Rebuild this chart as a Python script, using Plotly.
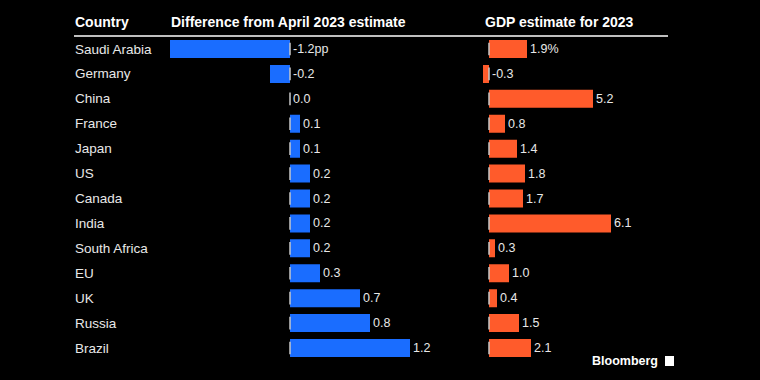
import plotly.graph_objects as go

countries = ["Saudi Arabia", "Germany", "China", "France", "Japan", "US", "Canada",
             "India", "South Africa", "EU", "UK", "Russia", "Brazil"]
diff_vals = [-1.2, -0.2, 0.0, 0.1, 0.1, 0.2, 0.2, 0.2, 0.2, 0.3, 0.7, 0.8, 1.2]
gdp_vals = [1.9, -0.3, 5.2, 0.8, 1.4, 1.8, 1.7, 6.1, 0.3, 1.0, 0.4, 1.5, 2.1]
diff_labels = ["-1.2pp"] + [f"{v:.1f}" for v in diff_vals[1:]]
gdp_labels = ["1.9%"] + [f"{v:.1f}" for v in gdp_vals[1:]]

W, H = 760, 380
BLUE = "#1a6dff"
ORANGE = "#ff5b2b"
FONT = "Liberation Sans"

fig = go.Figure()
fig.add_trace(go.Bar(x=diff_vals, y=countries, orientation="h", marker_color=BLUE,
                     marker_line_width=0, width=0.72, xaxis="x", yaxis="y", hoverinfo="skip"))
fig.add_trace(go.Bar(x=gdp_vals, y=countries, orientation="h", marker_color=ORANGE,
                     marker_line_width=0, width=0.72, xaxis="x2", yaxis="y", hoverinfo="skip"))
# zero ticks per row
for xa in ["x", "x2"]:
    fig.add_trace(go.Scatter(x=[0] * len(countries), y=countries, mode="markers",
                             marker=dict(symbol="line-ns", size=9,
                                         line=dict(color="#c8c8c8", width=1.5)),
                             xaxis=xa, yaxis="y", hoverinfo="skip"))

VAL_FONT = dict(color="#e8e8e8", size=12.5, family=FONT)
ann = []
for c, v, t in zip(countries, diff_vals, diff_labels):
    ann.append(dict(x=max(v, 0), y=c, xref="x", yref="y", text=t, showarrow=False,
                    xanchor="left", xshift=1, font=VAL_FONT))
for c, v, t in zip(countries, gdp_vals, gdp_labels):
    ann.append(dict(x=max(v, 0), y=c, xref="x2", yref="y", text=t, showarrow=False,
                    xanchor="left", xshift=1, font=VAL_FONT))
for c in countries:
    ann.append(dict(x=74 / W, y=c, xref="paper", yref="y", text=c, showarrow=False,
                    xanchor="left", xshift=-1, font=dict(color="#e8e8e8", size=13.5, family=FONT)))

hdr_y = 1 - 22 / H
for x, t in [(74, "Country"), (170, "Difference from April 2023 estimate"), (484, "GDP estimate for 2023")]:
    ann.append(dict(x=x / W, y=hdr_y, xref="paper", yref="paper", text=f"<b>{t}</b>",
                    showarrow=False, xanchor="left", yanchor="middle", xshift=-1,
                    font=dict(color="white", size=14, family=FONT)))
ann.append(dict(x=660 / W, y=1 - 361 / H, xref="paper", yref="paper", text="<b>Bloomberg</b>",
                showarrow=False, xanchor="right", yanchor="middle",
                font=dict(color="white", size=12.5, family=FONT)))

shapes = [
    dict(type="line", xref="paper", yref="paper", x0=74 / W, x1=668 / W,
         y0=1 - 36 / H, y1=1 - 36 / H, line=dict(color="white", width=1.5)),
    dict(type="rect", xref="paper", yref="paper", x0=665 / W, x1=674 / W,
         y0=1 - 366 / H, y1=1 - 356 / H, fillcolor="white", line=dict(width=0)),
]

y_top, y_bot = 49 - 12.46, 348 + 12.46
fig.update_layout(
    width=W, height=H, margin=dict(l=0, r=0, t=0, b=0),
    paper_bgcolor="black", plot_bgcolor="black", showlegend=False,
    barmode="overlay",
    xaxis=dict(domain=[170 / W, 420 / W], range=[-1.2, 1.3], visible=False, fixedrange=True),
    xaxis2=dict(domain=[470 / W, 640 / W], range=[-0.95, 7.55], visible=False, fixedrange=True,
                anchor="y"),
    yaxis=dict(domain=[1 - y_bot / H, 1 - y_top / H], categoryorder="array",
               categoryarray=countries, range=[12.5, -0.5], visible=False, fixedrange=True),
    annotations=ann, shapes=shapes,
)
fig.write_html("out.html", config={"displayModeBar": False},
               post_script="document.body.style.margin='0';document.body.style.background='black';")
